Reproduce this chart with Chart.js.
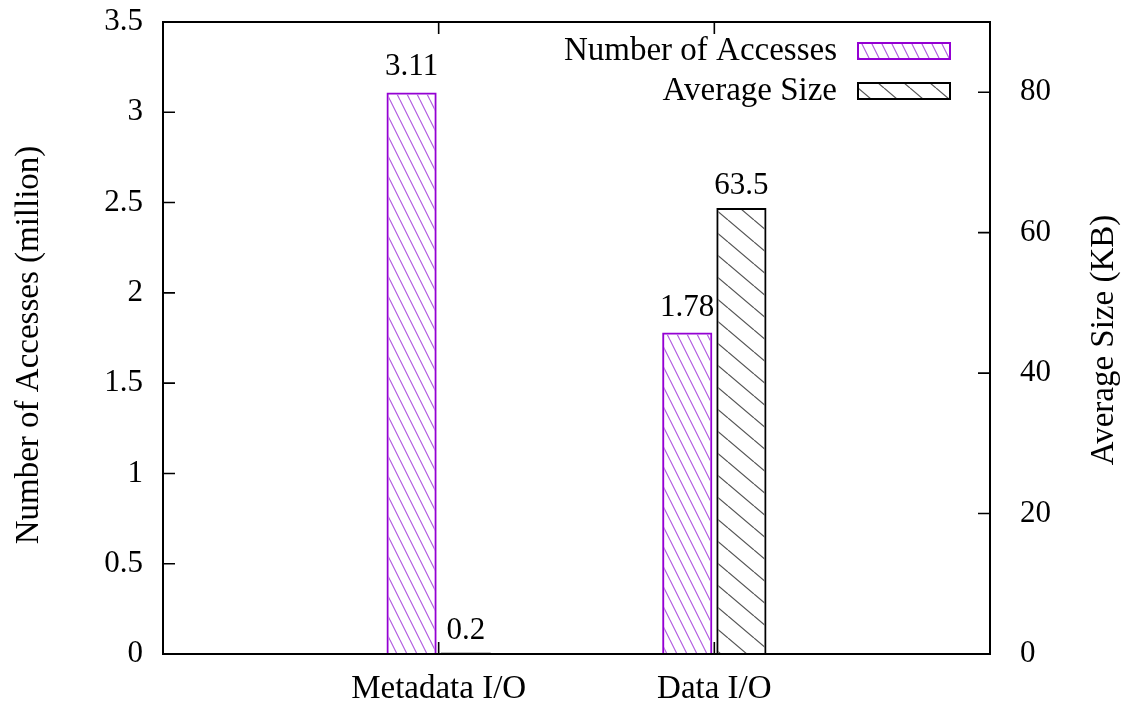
<!DOCTYPE html>
<html>
<head>
<meta charset="utf-8">
<script src="https://cdn.jsdelivr.net/npm/chart.js@4.4.0/dist/chart.umd.min.js"></script>
<style>
  html, body { margin: 0; padding: 0; background: #fff; }
  #wrap { width: 1122px; height: 706px; position: relative; }
</style>
</head>
<body>
<div id="wrap"><canvas id="c"></canvas></div>
<script>
// ---- data ----
const categories = ['Metadata I/O', 'Data I/O'];
const accessesMillion = [3.11, 1.78];   // left axis
const avgSizeKB = [0.2, 63.5];          // right axis
const accessLabels = ['3.11', '1.78'];
const sizeLabels = ['0.2', '63.5'];
const leftTicks = [0, 0.5, 1, 1.5, 2, 2.5, 3, 3.5];
const rightTicks = [0, 20, 40, 60, 80];
const seriesNames = ['Number of Accesses', 'Average Size'];
const axisTitles = ['Number of Accesses (million)', 'Average Size (KB)'];

const SERIF = '"Liberation Serif", "Times New Roman", serif';
const PURPLE = '#9400d3';

// diagonal "\" hatch tile
function hatch(period, rise, color, width) {
  const c = document.createElement('canvas');
  c.width = period; c.height = rise;
  const g = c.getContext('2d');
  g.strokeStyle = color; g.lineWidth = width;
  g.beginPath();
  for (let k = -1; k <= 1; k++) {
    g.moveTo(k * period, 0);
    g.lineTo(k * period + period, rise);
  }
  g.stroke();
  return g.createPattern(c, 'repeat');
}
const purpleHatch = hatch(10, 20, '#b25ee0', 1.2);
const blackHatch = hatch(26, 22, '#555555', 1.2);

// blank slots at both ends put the two groups at 1/3 and 2/3 of the width
const labels = ['', ...categories, ''];
const pad = arr => [null, ...arr, null];

function noEdgePadding(s) {
  s.paddingTop = 0; s.paddingBottom = 0;
  s.paddingLeft = 0; s.paddingRight = 0;
}

const overlay = {
  id: 'overlay',
  afterDatasetsDraw(chart) {
    const { ctx, chartArea: a, scales } = chart;
    const T = 12;
    ctx.save();
    ctx.strokeStyle = '#000';
    ctx.lineWidth = 1.6;
    ctx.beginPath();
    leftTicks.forEach(v => {
      const p = scales.y.getPixelForValue(v);
      ctx.moveTo(a.left, p); ctx.lineTo(a.left + T, p);
    });
    rightTicks.forEach(v => {
      const p = scales.y1.getPixelForValue(v);
      ctx.moveTo(a.right, p); ctx.lineTo(a.right - T, p);
    });
    categories.forEach((_, i) => {
      const p = scales.x.getPixelForValue(i + 1);
      ctx.moveTo(p, a.bottom); ctx.lineTo(p, a.bottom - T);
      ctx.moveTo(p, a.top); ctx.lineTo(p, a.top + T);
    });
    ctx.stroke();

    ctx.lineWidth = 2;
    ctx.strokeRect(a.left, a.top, a.right - a.left, a.bottom - a.top);

    // value labels above bars
    ctx.fillStyle = '#000';
    ctx.font = '31px ' + SERIF;
    ctx.textAlign = 'center';
    ctx.textBaseline = 'alphabetic';
    const texts = [accessLabels, sizeLabels];
    const gaps = [17, 14];
    chart.data.datasets.forEach((ds, d) => {
      const meta = chart.getDatasetMeta(d);
      categories.forEach((_, i) => {
        const el = meta.data[i + 1];
        ctx.fillText(texts[d][i], el.x, el.y - gaps[d]);
      });
    });

    // key, top right inside the frame
    ctx.font = '33px ' + SERIF;
    ctx.textAlign = 'right';
    const rows = [60, 100];
    chart.data.datasets.forEach((ds, d) => {
      ctx.fillStyle = '#000';
      ctx.fillText(seriesNames[d], 837, rows[d]);
      const by = rows[d] - 17;
      ctx.fillStyle = ds.backgroundColor;
      ctx.fillRect(858, by, 92, 16);
      ctx.strokeStyle = ds.borderColor;
      ctx.lineWidth = 2;
      ctx.strokeRect(858, by, 92, 16);
    });

    // axis titles, both reading bottom to top
    ctx.fillStyle = '#000';
    ctx.textAlign = 'center';
    ctx.textBaseline = 'middle';
    ctx.save();
    ctx.translate(29, 345);
    ctx.rotate(-Math.PI / 2);
    ctx.fillText(axisTitles[0], 0, 0);
    ctx.restore();
    ctx.save();
    ctx.translate(1104, 340);
    ctx.rotate(-Math.PI / 2);
    ctx.fillText(axisTitles[1], 0, 0);
    ctx.restore();

    ctx.restore();
  }
};

new Chart(document.getElementById('c'), {
  type: 'bar',
  data: {
    labels,
    datasets: [
      {
        label: seriesNames[0],
        data: pad(accessesMillion),
        yAxisID: 'y',
        backgroundColor: purpleHatch,
        borderColor: PURPLE,
        borderWidth: 2,
        categoryPercentage: 0.393,
        barPercentage: 0.926
      },
      {
        label: seriesNames[1],
        data: pad(avgSizeKB),
        yAxisID: 'y1',
        backgroundColor: blackHatch,
        borderColor: '#000',
        borderWidth: 2,
        categoryPercentage: 0.393,
        barPercentage: 0.926
      }
    ]
  },
  options: {
    responsive: true,
    maintainAspectRatio: false,
    animation: false,
    layout: { padding: { top: 22, left: 0, right: 0, bottom: 0 } },
    plugins: { legend: { display: false }, tooltip: { enabled: false } },
    scales: {
      x: {
        offset: false,
        grid: { display: false, offset: false, drawTicks: false },
        border: { display: false },
        ticks: {
          autoSkip: false, maxRotation: 0, minRotation: 0,
          padding: 16, color: '#000',
          font: { family: SERIF, size: 33 }
        },
        afterFit(s) { s.height = 52; noEdgePadding(s); }
      },
      y: {
        position: 'left',
        min: 0, max: 3.5,
        grid: { display: false, drawTicks: false },
        border: { display: false },
        ticks: {
          padding: 20, color: '#000', font: { family: SERIF, size: 31 },
          callback: v => String(v)
        },
        afterBuildTicks(s) { s.ticks = leftTicks.map(v => ({ value: v })); },
        afterFit(s) { s.width = 163; noEdgePadding(s); }
      },
      y1: {
        position: 'right',
        min: 0, max: 90,
        grid: { display: false, drawTicks: false },
        border: { display: false },
        ticks: {
          padding: 30, color: '#000', font: { family: SERIF, size: 31 },
          callback: v => String(v)
        },
        afterBuildTicks(s) { s.ticks = rightTicks.map(v => ({ value: v })); },
        afterFit(s) { s.width = 132; noEdgePadding(s); }
      }
    }
  },
  plugins: [overlay]
});
</script>
</body>
</html>
